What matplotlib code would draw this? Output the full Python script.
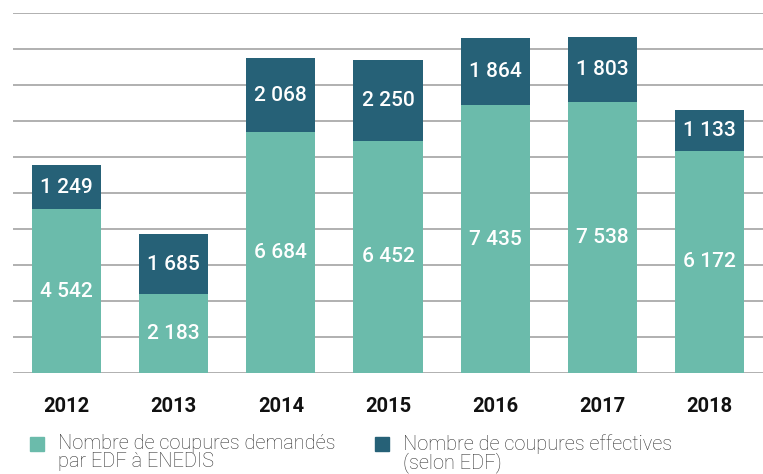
import matplotlib
matplotlib.use("Agg")
import matplotlib.pyplot as plt
from matplotlib.patches import Rectangle

years = ["2012", "2013", "2014", "2015", "2016", "2017", "2018"]
demandees = [4542, 2183, 6684, 6452, 7435, 7538, 6172]
effectives = [1249, 1685, 2068, 2250, 1864, 1803, 1133]
legend_labels = ["Nombre de coupures demandés\npar EDF à ENEDIS",
                 "Nombre de coupures effectives\n(selon EDF)"]

c_light = "#6bbbab"
c_dark = "#266177"
W, H = 763, 474

fig = plt.figure(figsize=(W / 100, H / 100), dpi=100)
ax = fig.add_axes([13 / W, (H - 373) / H, 1 - 13 / W, (373 - 13) / H])

x = list(range(len(years)))
ax.bar(x, demandees, width=0.645, color=c_light, zorder=3)
ax.bar(x, effectives, width=0.645, bottom=demandees, color=c_dark, zorder=3)

ax.set_xlim(-0.5, 6.5)
ax.set_ylim(0, 10000)
for yv in range(0, 10001, 1000):
    ax.axhline(yv, color="#aaaaaa", lw=1.3, zorder=1)

def fmt(v):
    return f"{v:,}".replace(",", " ")

for i in x:
    ax.text(i, demandees[i] / 2, fmt(demandees[i]), ha="center", va="center",
            color="white", fontsize=15, fontfamily="Roboto", fontweight="medium", zorder=4)
    ax.text(i, demandees[i] + effectives[i] / 2, fmt(effectives[i]), ha="center", va="center",
            color="white", fontsize=15, fontfamily="Roboto", fontweight="medium", zorder=4)

ax.set_xticks(x)
ax.set_xticklabels(years, fontsize=14.5, fontfamily="Roboto", fontweight="bold", color="#111111")
ax.tick_params(axis="x", length=0, pad=17)
ax.set_yticks([])
for s in ax.spines.values():
    s.set_visible(False)

# legend
sq = 14
for (lx, tx), lab, col in zip([(30, 58), (375, 403)], legend_labels, [c_light, c_dark]):
    fig.patches.append(Rectangle((lx / W, (H - 451) / H), sq / W, sq / H,
                                 transform=fig.transFigure, color=col, figure=fig))
    fig.text(tx / W, (H - 434) / H, lab, ha="left", va="top", fontsize=14.4,
             fontfamily="Roboto", fontweight="light", color="#333333", linespacing=0.92)

fig.savefig("out.png", dpi=100)
